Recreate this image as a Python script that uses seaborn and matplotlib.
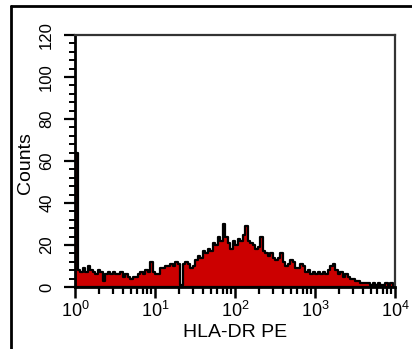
import numpy as np
import pandas as pd
import matplotlib
matplotlib.use("Agg")
import matplotlib.pyplot as plt
from matplotlib.lines import Line2D
from matplotlib.ticker import MultipleLocator, LogLocator, LogFormatterSciNotation, NullFormatter
import seaborn as sns

# Channel counts, 32 channels per decade over 10^0 .. 10^4
counts_decade0 = [64, 8, 7, 9, 7, 10, 8, 7, 6, 8, 7, 3, 6, 7, 6, 7,
                  6, 6, 7, 5, 6, 5, 4, 5, 5, 6, 7, 6, 8, 7, 12, 7]
counts_decade1 = [6, 6, 9, 9, 10, 10, 11, 10, 12, 11, 1, 11, 12, 11, 9, 10,
                  13, 15, 14, 17, 16, 18, 17, 21, 20, 24, 22, 30, 24, 21, 18, 22]
counts_decade2 = [20, 23, 22, 25, 29, 22, 21, 20, 18, 19, 24, 17, 16, 15, 16, 14,
                  13, 14, 16, 12, 10, 11, 13, 12, 9, 9, 11, 10, 7, 8, 6, 7]
counts_decade3 = [6, 7, 6, 7, 6, 8, 10, 11, 8, 6, 7, 5, 6, 5, 4, 4,
                  3, 3, 2, 2, 2, 2, 1, 2, 1, 2, 1, 1, 2, 1, 2, 1]
counts = counts_decade0 + counts_decade1 + counts_decade2 + counts_decade3

decades = (0, 4)
n_bins = len(counts)
log_edges = np.linspace(decades[0], decades[1], n_bins + 1)
channel_centers = 10 ** ((log_edges[:-1] + log_edges[1:]) / 2)

y_ticks = [0, 20, 40, 60, 80, 100, 120]
x_label = "HLA-DR PE"
y_label = "Counts"

df = pd.DataFrame({"intensity": channel_centers, "count": counts})

sns.set_style("ticks")
plt.rcParams["font.family"] = ["Liberation Sans", "DejaVu Sans"]
plt.rcParams["mathtext.default"] = "regular"
for key in ["text.color", "axes.labelcolor", "xtick.color", "ytick.color"]:
    plt.rcParams[key] = "black"

fig = plt.figure(figsize=(4.12, 3.49), dpi=100)
ax = fig.add_axes([75 / 412, 1 - 287 / 349, 320 / 412, 252 / 349])

sns.histplot(data=df, x="intensity", weights="count", bins=n_bins,
             binrange=decades, log_scale=True, element="step", fill=True,
             color="#cc0000", alpha=1, edgecolor="black", linewidth=1.6, ax=ax)

ax.set_xlim(10 ** decades[0], 10 ** decades[1])
ax.set_ylim(y_ticks[0], y_ticks[-1])
ax.set_yticks(y_ticks)
ax.yaxis.set_minor_locator(MultipleLocator(4))
ax.xaxis.set_major_locator(LogLocator(base=10, numticks=10))
ax.xaxis.set_major_formatter(LogFormatterSciNotation())
ax.xaxis.set_minor_locator(LogLocator(base=10, subs=np.arange(2, 10), numticks=20))
ax.xaxis.set_minor_formatter(NullFormatter())

ax.set_xlabel(x_label, fontsize=14, labelpad=2)
ax.set_ylabel(y_label, fontsize=14)
ax.yaxis.set_label_coords(-0.128, 0.49)

ax.tick_params(axis="y", which="major", length=8, width=1.6, labelsize=12,
               labelrotation=90, pad=7)
ax.tick_params(axis="y", which="minor", length=4, width=1.4)
ax.tick_params(axis="x", which="major", length=8, width=1.8, labelsize=13,
               pad=2)
ax.tick_params(axis="x", which="minor", length=5, width=1.6)
for lbl in ax.get_yticklabels():
    lbl.set_verticalalignment("center")

for side in ["top", "right"]:
    ax.spines[side].set_visible(True)
    ax.spines[side].set_color("#333333")
    ax.spines[side].set_linewidth(1.6)
for side in ["left", "bottom"]:
    ax.spines[side].set_color("black")
    ax.spines[side].set_linewidth(2.0)

# outer panel frame (left and top edges)
fig.add_artist(Line2D([11 / 412, 11 / 412], [0, 1 - 6 / 349], color="black",
                      linewidth=2.0, transform=fig.transFigure))
fig.add_artist(Line2D([11 / 412, 1.0], [1 - 6 / 349, 1 - 6 / 349], color="black",
                      linewidth=2.0, transform=fig.transFigure))

fig.savefig("out.png", dpi=100)
